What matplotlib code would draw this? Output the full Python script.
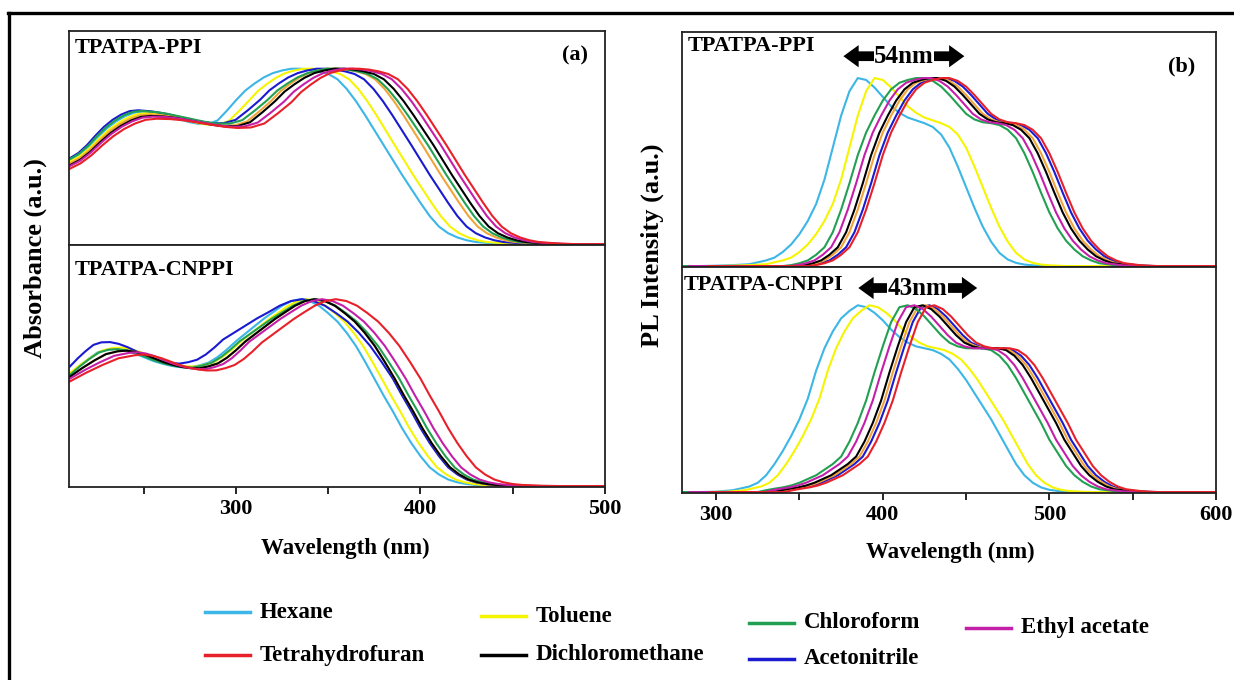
import numpy as np
import matplotlib.pyplot as plt
from matplotlib.lines import Line2D

plt.rcParams['font.family'] = ['Liberation Serif', 'DejaVu Serif']
plt.rcParams['font.weight'] = 'bold'

# solvents (the last, orange one is not in the printed legend)
solvents = ['Hexane', 'Toluene', 'Chloroform', 'Ethyl acetate',
            'Tetrahydrofuran', 'Dichloromethane', 'Acetonitrile', '']
colors = ['#3bb6e6', '#f5f500', '#22a052', '#c41fa8',
          '#e8202a', '#000000', '#1a1ad0', '#f2a43a']
draw_order = [0, 1, 6, 7, 2, 5, 3, 4]

# ---- absorption, TPATPA-PPI : hexane spectrum (normalised) ----
abs_wl = [210, 215, 220, 225, 230, 235, 240, 245, 250, 255, 260, 265, 270, 275,
          280, 285, 290, 295, 300, 305, 310, 315, 320, 325, 330, 335, 340, 345,
          350, 355, 360, 365, 370, 375, 380, 385, 390, 395, 400, 405, 410, 415,
          420, 425, 430, 440, 450, 460, 480, 500]
abs_ppi = [0.48, 0.51, 0.555, 0.61, 0.66, 0.70, 0.73, 0.75, 0.755, 0.75, 0.74,
           0.725, 0.71, 0.695, 0.685, 0.685, 0.705, 0.76, 0.82, 0.875, 0.915,
           0.95, 0.975, 0.99, 1.0, 1.0, 0.995, 0.985, 0.97, 0.94, 0.885, 0.815,
           0.735, 0.65, 0.565, 0.48, 0.395, 0.315, 0.235, 0.16, 0.10, 0.062,
           0.038, 0.022, 0.012, 0.004, 0.0, 0.0, 0.0, 0.0]
# ---- absorption, TPATPA-CNPPI : hexane spectrum ----
abs_cnppi = [0.595, 0.64, 0.68, 0.715, 0.73, 0.733, 0.725, 0.71, 0.69, 0.67,
             0.655, 0.643, 0.636, 0.635, 0.645, 0.66, 0.69, 0.73, 0.775, 0.815,
             0.855, 0.895, 0.93, 0.965, 0.99, 1.0, 0.99, 0.965, 0.925, 0.88,
             0.82, 0.75, 0.665, 0.575, 0.485, 0.40, 0.31, 0.23, 0.16, 0.10,
             0.062, 0.035, 0.02, 0.011, 0.006, 0.002, 0.0, 0.0, 0.0, 0.0]

# shifts (nm) of each solvent vs hexane at: start, hump, rising edge, falling edge
abs_ppi_anchor = [210, 250, 300, 380]
abs_ppi_shift = [[0, 0, 0, 0], [0, 2, 7, 6], [0, -1, 17, 24], [0, 5, 26, 31],
                 [0, 7, 30, 34], [0, 4, 21, 27], [0, -3, 13, 15], [0, 3, 19, 21]]
abs_ppi_low = [0, -0.01, 0.005, -0.035, -0.05, -0.03, 0.01, -0.02]

abs_cn_anchor = [210, 230, 300, 375]
abs_cn_shift = [[0, 0, 0, 0], [0, 3, 3, 4], [0, 1, 2, 13.5], [0, 12, 7, 17],
                [0, 15, 14, 25], [0, 6, 5, 11], [0, -3, -7, 10], [0, 6, 5, 11]]
abs_cn_low = [0, 0.01, 0, -0.02, -0.035, -0.01, 0.045, -0.01]

# ---- photoluminescence ----
pl_wl = [280, 290, 300, 310, 320, 325, 330, 335, 340, 345, 350, 355, 360, 365,
         370, 375, 380, 385, 390, 395, 400, 405, 410, 415, 420, 425, 430, 435,
         440, 445, 450, 455, 460, 465, 470, 475, 480, 485, 490, 495, 500, 505,
         510, 515, 520, 525, 530, 540, 550, 560, 600]
# hexane-like band (hexane, toluene)
pl_ppi_a = [0, 0, 0.002, 0.005, 0.01, 0.02, 0.03, 0.045, 0.075, 0.115, 0.17,
            0.24, 0.33, 0.46, 0.63, 0.80, 0.93, 1.0, 0.99, 0.95, 0.90, 0.85,
            0.815, 0.79, 0.775, 0.76, 0.74, 0.70, 0.63, 0.53, 0.42, 0.31,
            0.21, 0.13, 0.07, 0.035, 0.017, 0.008, 0.004, 0.002, 0, 0, 0, 0,
            0, 0, 0, 0, 0, 0, 0]
# polar-solvent band (chloroform as reference)
pl_ppi_b = [0, 0, 0, 0, 0, 0, 0, 0, 0, 0.005, 0.015, 0.03, 0.06, 0.10, 0.18,
            0.30, 0.44, 0.59, 0.71, 0.80, 0.88, 0.94, 0.975, 0.99, 1.0, 1.0,
            0.985, 0.955, 0.91, 0.86, 0.81, 0.78, 0.765, 0.76, 0.75, 0.725,
            0.68, 0.60, 0.50, 0.39, 0.285, 0.20, 0.135, 0.088, 0.052, 0.03,
            0.015, 0.004, 0, 0, 0]
pl_cn_a = [0, 0, 0.002, 0.01, 0.03, 0.05, 0.09, 0.15, 0.22, 0.30, 0.39, 0.50,
           0.65, 0.77, 0.86, 0.93, 0.97, 1.0, 0.99, 0.96, 0.92, 0.87, 0.83,
           0.80, 0.78, 0.77, 0.76, 0.74, 0.71, 0.66, 0.60, 0.53, 0.46, 0.39,
           0.31, 0.23, 0.15, 0.09, 0.05, 0.025, 0.012, 0.006, 0.003, 0.001,
           0, 0, 0, 0, 0, 0, 0]
pl_cn_b = [0, 0, 0, 0, 0, 0, 0.01, 0.018, 0.025, 0.035, 0.05, 0.07, 0.09, 0.12,
           0.15, 0.19, 0.27, 0.37, 0.49, 0.64, 0.78, 0.91, 0.99, 1.0, 0.98,
           0.94, 0.89, 0.84, 0.80, 0.78, 0.77, 0.77, 0.77, 0.76, 0.73, 0.68,
           0.61, 0.53, 0.45, 0.37, 0.28, 0.21, 0.14, 0.09, 0.055, 0.03, 0.015,
           0.004, 0, 0, 0]
pl_band = [0, 0, 1, 1, 1, 1, 1, 1]   # which band each solvent uses
pl_ppi_shift = [0, 10, 0, 4, 15, 8, 13, 10]
pl_cn_shift = [0, 7, 0, 4, 16, 9, 13, 11]

W, H = 1234, 680
fig = plt.figure(figsize=(W / 100, H / 100), dpi=100)


def box(x0, y0, x1, y1):
    return [x0 / W, 1 - y1 / H, (x1 - x0) / W, (y1 - y0) / H]


ax_a1 = fig.add_axes(box(69, 31, 605, 245))
ax_a2 = fig.add_axes(box(69, 245, 605, 487))
ax_b1 = fig.add_axes(box(682, 32, 1216, 267))
ax_b2 = fig.add_axes(box(682, 267, 1216, 493))

wl_a = np.array(abs_wl, float)
for i in draw_order:
    sh = abs_ppi_shift[i]
    x = wl_a + np.interp(wl_a, abs_ppi_anchor, sh)
    y = np.array(abs_ppi) + abs_ppi_low[i] * np.interp(wl_a, [210, 250, 320], [1, 0.8, 0])
    ax_a1.plot(x, y, color=colors[i], lw=1.5)
    sh = abs_cn_shift[i]
    x = wl_a + np.interp(wl_a, abs_cn_anchor, sh)
    y = np.array(abs_cnppi) + abs_cn_low[i] * np.interp(wl_a, [210, 240, 320], [1, 0.8, 0])
    ax_a2.plot(x, y, color=colors[i], lw=1.5)

wl_p = np.array(pl_wl, float)
for i in draw_order:
    yb = pl_ppi_b if pl_band[i] else pl_ppi_a
    ax_b1.plot(wl_p + pl_ppi_shift[i], yb, color=colors[i], lw=1.5)
    yb = pl_cn_b if pl_band[i] else pl_cn_a
    ax_b2.plot(wl_p + pl_cn_shift[i], yb, color=colors[i], lw=1.5)

for ax in (ax_a1, ax_a2):
    ax.set_xlim(209.5, 500)
for ax in (ax_b1, ax_b2):
    ax.set_xlim(279.5, 600)
ax_a1.set_ylim(-0.005, 1.215)
ax_a2.set_ylim(-0.005, 1.29)
ax_b1.set_ylim(-0.005, 1.245)
ax_b2.set_ylim(-0.005, 1.205)

for ax in (ax_a1, ax_a2, ax_b1, ax_b2):
    ax.set_yticks([])
    for s in ax.spines.values():
        s.set_linewidth(1.3)
        s.set_color('#222222')
for ax in (ax_a1, ax_b1):
    ax.set_xticks([])
ax_a2.set_xticks([300, 400, 500])
ax_a2.set_xticks([250, 350, 450], minor=True)
ax_b2.set_xticks([300, 400, 500, 600])
ax_b2.set_xticks([350, 450, 550], minor=True)
for ax in (ax_a2, ax_b2):
    ax.tick_params(axis='x', which='both', direction='out', length=5, width=1.2,
                   labelsize=16, pad=4)

tfont = dict(fontsize=16, fontweight='bold')
ax_a1.text(0.01, 0.92, 'TPATPA-PPI', transform=ax_a1.transAxes, va='center', **tfont)
ax_a1.text(0.944, 0.884, '(a)', transform=ax_a1.transAxes, ha='center', va='center', **tfont)
ax_a2.text(0.01, 0.895, 'TPATPA-CNPPI', transform=ax_a2.transAxes, va='center', **tfont)
ax_b1.text(0.01, 0.94, 'TPATPA-PPI', transform=ax_b1.transAxes, va='center', **tfont)
ax_b1.text(0.935, 0.855, '(b)', transform=ax_b1.transAxes, ha='center', va='center', **tfont)
ax_b2.text(0.004, 0.92, 'TPATPA-CNPPI', transform=ax_b2.transAxes, va='center', **tfont)

# shift arrows
astyle = 'simple,head_width=1.6,head_length=1.1,tail_width=0.7'
for ax, x0, x1, y, lab in ((ax_b1, 0.297, 0.534, 0.897, '54nm'),
                           (ax_b2, 0.325, 0.558, 0.907, '43nm')):
    xm = (x0 + x1) / 2
    ax.annotate('', xy=(x0, y), xytext=(xm, y), xycoords='axes fraction',
                arrowprops=dict(arrowstyle=astyle, color='black', lw=0))
    ax.annotate('', xy=(x1, y), xytext=(xm, y), xycoords='axes fraction',
                arrowprops=dict(arrowstyle=astyle, color='black', lw=0))
    ax.text(xm, y, lab, transform=ax.transAxes, ha='center', va='center',
            fontsize=18, fontweight='bold',
            bbox=dict(facecolor='white', edgecolor='none', pad=0.3))

fig.text(35 / W, 1 - 258 / H, 'Absorbance (a.u.)', rotation=90, ha='center',
         va='center', fontsize=19, fontweight='bold')
fig.text(652 / W, 1 - 245 / H, 'PL Intensity (a.u.)', rotation=90, ha='center',
         va='center', fontsize=19, fontweight='bold')
fig.text(345 / W, 1 - 548 / H, 'Wavelength (nm)', ha='center', va='center',
         fontsize=16.5, fontweight='bold')
fig.text(950 / W, 1 - 552 / H, 'Wavelength (nm)', ha='center', va='center',
         fontsize=16.5, fontweight='bold')

# legend, laid out by hand like the original
leg_x = [205, 481, 749, 966, 205, 481, 749]
leg_y = [612, 616, 623, 628, 655, 655, 659]
for i in range(7):
    x0, y0 = leg_x[i], leg_y[i]
    fig.add_artist(Line2D([x0 / W, (x0 + 45) / W], [1 - y0 / H, 1 - y0 / H],
                          color=colors[i], lw=2.5))
    fig.text((x0 + 55) / W, 1 - y0 / H, solvents[i], ha='left', va='center',
             fontsize=16.5, fontweight='bold')

# outer frame
fig.add_artist(Line2D([8 / W, 1], [1 - 13 / H, 1 - 13 / H], color='black', lw=2.4))
fig.add_artist(Line2D([9 / W, 9 / W], [1 - 13 / H, 0], color='black', lw=2.4))

fig.savefig('out.png', dpi=100)
